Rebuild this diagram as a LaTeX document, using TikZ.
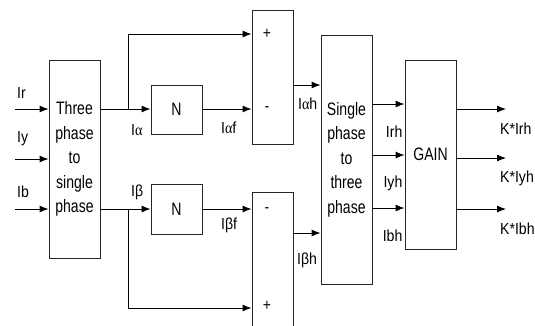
\documentclass[tikz,border=0pt]{standalone}
\usepackage{fontspec}
\setmainfont{Liberation Sans}[FakeStretch=0.88]
\newfontfamily\blockfont{Liberation Sans}[FakeStretch=0.78]
\newfontfamily\grkfont{Liberation Serif}[FakeStretch=0.88]
\usetikzlibrary{arrows.meta, positioning, calc}

\begin{document}
\begin{tikzpicture}[
    x=1pt, y=-1pt,
    block/.style={rectangle, draw=black!85, line width=0.9pt, minimum width=51pt, align=center, inner sep=0pt, font=\blockfont\fontsize{18}{24.5}\selectfont},
    sumbox/.style={block, minimum width=41pt},
    arrow/.style={-{Latex[length=9pt, width=7pt]}, line width=0.9pt},
    wire/.style={line width=0.9pt},
    sig_label/.style={font=\fontsize{16}{18}\selectfont, inner sep=0pt},
    sign/.style={font=\fontsize{16}{18}\selectfont, inner sep=0pt}
]
    \useasboundingbox (0,0) rectangle (535,325);
    \clip (0,0) rectangle (535,325);

    % Blocks
    \node[block, minimum height=198pt] (conv3) at (74.5,159) {Three\\phase\\to\\single\\phase};
    \node[block, minimum height=49pt] (filta) at (176.5,109.5) {N};
    \node[block, minimum height=50pt] (filtb) at (176.5,209) {N};
    \node[sumbox, minimum height=134pt] (suma) at (272.5,77) {};
    \node[sumbox, minimum height=150pt] (sumb) at (272.5,267) {};
    \node[block, minimum height=249pt] (conv1) at (346.5,159.5) {Single\\phase\\to\\three\\phase};
    \node[block, minimum height=189pt] (gain) at (430.5,154.5) {GAIN};

    % Signs of the summing blocks
    \node[sign] at (267,34) {+};
    \node[sign] at (267,109) {-};
    \node[sign] at (267,210) {-};
    \node[sign] at (267,306) {+};

    % Inputs
    \coordinate (in_r) at (15,109);
    \coordinate (in_y) at (15,159);
    \coordinate (in_b) at (15,209);
    \draw[arrow] (in_r) -- (in_r -| conv3.west);
    \draw[arrow] (in_y) -- (in_y -| conv3.west);
    \draw[arrow] (in_b) -- (in_b -| conv3.west);
    \node[sig_label, anchor=west] at (17,93) {Ir};
    \node[sig_label, anchor=west] at (17,139) {Iy};
    \node[sig_label, anchor=west] at (17,192) {Ib};

    % Alpha path
    \coordinate (split_a) at (128,109);
    \draw[wire] (conv3.east |- split_a) -- (split_a);
    \draw[arrow] (split_a) -- (filta.west |- split_a);
    \draw[arrow] (split_a) |- (suma.west |- 0,34);
    \draw[arrow] (filta.east |- split_a) -- (suma.west |- split_a);
    \node[sig_label, anchor=west] at (131,130) {I{\grkfont α}};
    \node[sig_label, anchor=west] at (221,128) {I{\grkfont α}f};

    % Beta path
    \coordinate (split_b) at (128,209);
    \draw[wire] (conv3.east |- split_b) -- (split_b);
    \draw[arrow] (split_b) -- (filtb.west |- split_b);
    \draw[arrow] (split_b) |- (sumb.west |- 0,308);
    \draw[arrow] (filtb.east |- split_b) -- (sumb.west |- split_b);
    \node[sig_label, anchor=west] at (131,192) {Iβ};
    \node[sig_label, anchor=west] at (221,225) {Iβf};

    % Harmonic currents
    \draw[arrow] (suma.east |- 0,85) -- (conv1.west |- 0,85);
    \draw[arrow] (sumb.east |- 0,233) -- (conv1.west |- 0,233);
    \node[sig_label, anchor=west] at (298,104) {I{\grkfont α}h};
    \node[sig_label, anchor=west] at (297,260) {Iβh};

    % Three phase harmonic currents
    \foreach \yy/\txt [count=\i] in {104/Irh, 155/Iyh, 208/Ibh} {
        \draw[arrow] (conv1.east |- 0,\yy) -- (gain.west |- 0,\yy);
        \node[sig_label, anchor=east] at ($(gain.west |- 0,\yy)+(-2,28)$) {\txt};
    }

    % Outputs
    \foreach \yy/\txt in {109/K*Irh, 158/K*Iyh, 209/K*Ibh} {
        \coordinate (out) at (506,\yy);
        \draw[arrow] (gain.east |- out) -- (out);
        \node[sig_label, anchor=west] at ($(out)+(-6,20)$) {\txt};
    }

\end{tikzpicture}
\end{document}
